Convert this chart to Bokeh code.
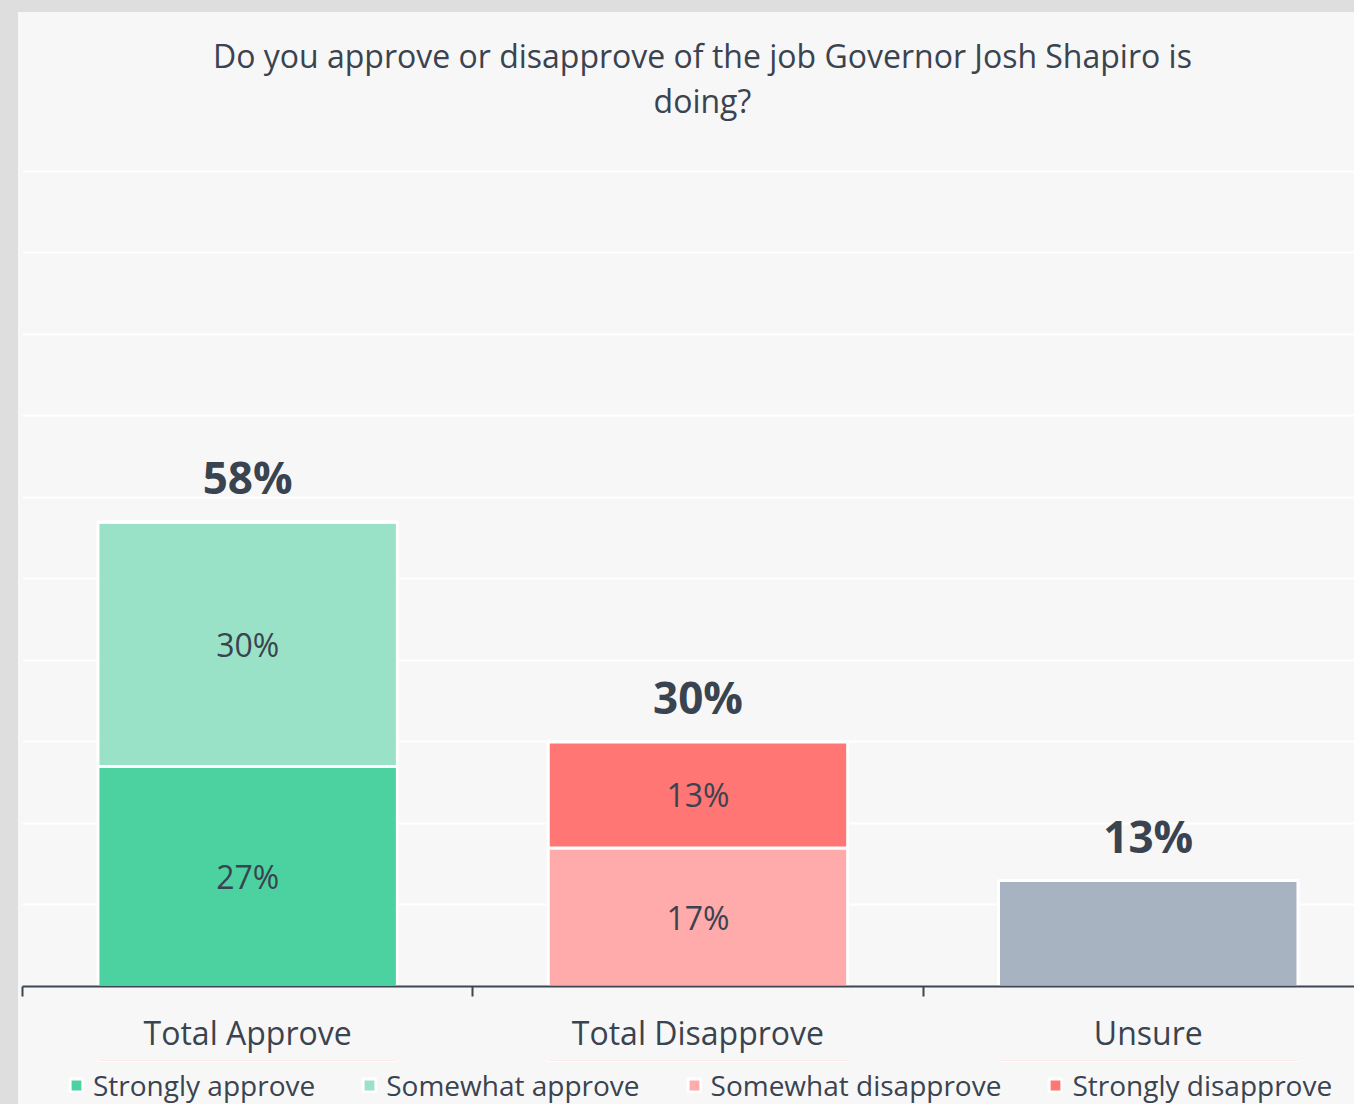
from bokeh.plotting import figure
from bokeh.layouts import column
from bokeh.models import (Range1d, LinearAxis, FixedTicker, Legend, LegendItem,
                          ColumnDataSource, Label, Grid)
from bokeh.core.properties import value
from bokeh.embed import file_html
from bokeh.resources import INLINE

# ---------------- data ----------------
title_lines = ["Do you approve or disapprove of the job Governor Josh Shapiro is", "doing?"]
categories = ["Total Approve", "Total Disapprove", "Unsure"]
strongly_approve = [27, 0, 0]
somewhat_approve = [30, 0, 0]
somewhat_disapprove = [0, 17, 0]
strongly_disapprove = [0, 13, 0]
unsure = [0, 0, 13]
totals = [58, 30, 13]
series_names = ["Strongly approve", "Somewhat approve", "Somewhat disapprove", "Strongly disapprove"]
series_colors = ["#4cd2a0", "#99e2c7", "#ffabab", "#ff7674"]
unsure_color = "#a8b3c1"

FONT = "Open Sans"
TEXT = "#3a4350"
AXIS = "#3d4653"
BG = "#f7f7f7"

series_values = [strongly_approve, somewhat_approve, somewhat_disapprove, strongly_disapprove]
keys = ["s0", "s1", "s2", "s3"]
n = len(categories)
centers = [i + 0.5 for i in range(n)]
bounds = list(range(n + 1))

W = 1354
LEFT = 22
CAT_PX = 450.3  # pixel width of one category slot
x_end = (W - LEFT) / CAT_PX
p = figure(x_range=Range1d(0, x_end), y_range=Range1d(0, 119.5),
           width=W, height=1060, output_backend="svg", toolbar_location=None,
           x_axis_location=None, y_axis_location=None,
           min_border_left=LEFT, min_border_right=0, min_border_top=12, min_border_bottom=74)
p.background_fill_color = BG
p.border_fill_color = None
p.outline_line_color = None
p.xgrid.grid_line_color = None
p.ygrid.grid_line_color = None
p.styles = {"background-color": BG, "box-shadow": "inset 18px 12px 0 0 #dedede"}

p.add_layout(Grid(dimension=1, ticker=FixedTicker(ticks=list(range(0, 101, 10))),
                  grid_line_color="white", grid_line_width=2))

data = dict(x=centers)
for k, v in zip(keys, series_values):
    data[k] = v
src = ColumnDataSource(data)
rs = p.vbar_stack(keys, x="x", width=0.665, color=series_colors, line_color="white",
                  line_width=3, source=src)
p.vbar(x=centers, top=unsure, width=0.665, fill_color=unsure_color, line_color="white", line_width=3)

# segment labels
seg_x, seg_y, seg_t = [], [], []
tops = []
for i in range(n):
    base = 0
    for v in series_values:
        if v[i] > 0:
            seg_x.append(centers[i])
            seg_y.append(base + v[i] / 2)
            seg_t.append(f"{v[i]}%")
        base += v[i]
    base += unsure[i]
    tops.append(base)
p.text(x=seg_x, y=seg_y, text=seg_t, text_align="center", text_baseline="middle",
       text_font=value(FONT), text_font_size="32px", text_color=TEXT)
p.text(x=centers, y=tops, text=[f"{t}%" for t in totals], text_align="center",
       text_baseline="alphabetic", y_offset=-45, text_font=value(FONT), text_font_size="44px",
       text_font_style="bold", text_color=TEXT)

# title
for ln, yy in zip(title_lines, [114.25, 108.7]):
    p.add_layout(Label(x=1.51, y=yy, text=ln, text_align="center",
                       text_baseline="middle", text_font=FONT, text_font_size="32px",
                       text_color=TEXT))

# category axis, ticks at category boundaries
cat_axis = LinearAxis(ticker=FixedTicker(ticks=centers, minor_ticks=bounds),
                      major_label_overrides={c: lab for c, lab in zip(centers, categories)},
                      axis_line_color=AXIS, axis_line_width=2,
                      major_tick_line_color=None, major_tick_out=10, major_tick_in=0,
                      minor_tick_line_color=AXIS, minor_tick_line_width=2,
                      minor_tick_out=10, minor_tick_in=0,
                      major_label_text_font=FONT, major_label_text_font_size="32px",
                      major_label_text_color=TEXT, major_label_standoff=14)
p.add_layout(cat_axis, "below")

# legend strip below the chart (its bars lie outside its visible y range; only the legend shows)
pl = figure(x_range=Range1d(0, x_end), y_range=Range1d(-2, -1), width=W, height=44,
            output_backend="svg", toolbar_location=None,
            x_axis_location=None, y_axis_location=None,
            min_border_left=LEFT, min_border_right=0, min_border_top=0, min_border_bottom=0)
pl.background_fill_color = BG
pl.border_fill_color = None
pl.outline_line_color = None
pl.xgrid.grid_line_color = None
pl.ygrid.grid_line_color = None
pl.styles = {"background-color": BG, "box-shadow": "inset 18px 0 0 0 #dedede"}
leg_renderers = pl.vbar_stack(keys, x="x", width=0.665, color=series_colors, line_color="white",
                              line_width=3, source=src)
legend = Legend(items=[LegendItem(label=nm, renderers=[r]) for nm, r in zip(series_names, leg_renderers)],
                orientation="horizontal", location=(46, 0), label_text_font=FONT,
                label_text_font_size="28px", label_text_color=TEXT, glyph_width=16, glyph_height=16,
                label_standoff=9, spacing=46, padding=0, margin=0, background_fill_alpha=0,
                border_line_color=None)
pl.add_layout(legend)

open("out.html", "w").write(file_html(column(p, pl, spacing=0), INLINE))
